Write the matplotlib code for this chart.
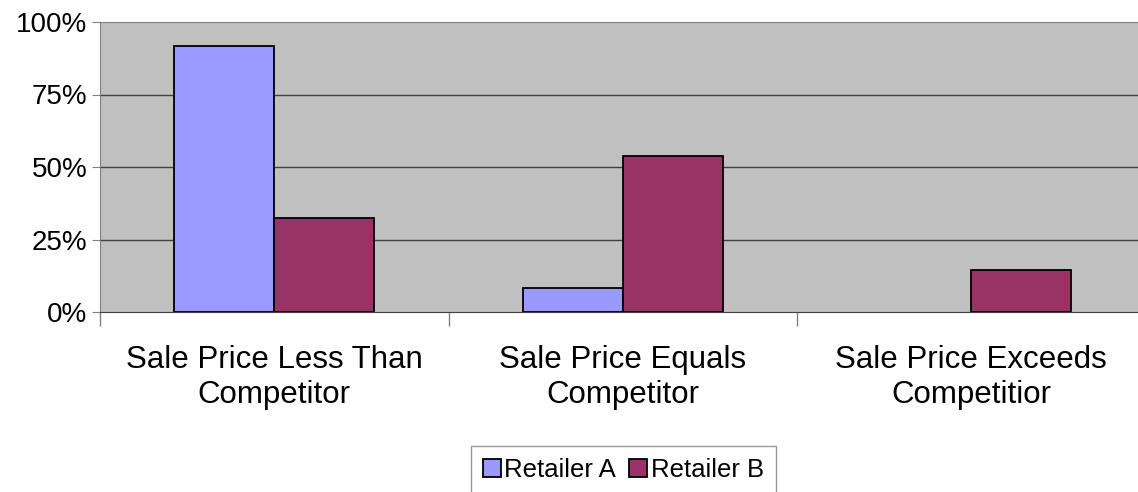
import matplotlib.pyplot as plt
import numpy as np

plt.rcParams["font.family"] = ["Liberation Sans", "DejaVu Sans"]

categories = [
    "Sale Price Less Than\nCompetitor",
    "Sale Price Equals\nCompetitor",
    "Sale Price Exceeds\nCompetitior",
]
retailer_a = [0.918, 0.083, 0.0]
retailer_b = [0.325, 0.539, 0.145]
y_ticks = [0, 0.25, 0.5, 0.75, 1.0]
y_labels = ["0%", "25%", "50%", "75%", "100%"]

W, H = 1138, 492
fig = plt.figure(figsize=(W / 100, H / 100), dpi=100)
ax = fig.add_axes([100 / W, (H - 312) / H, 1045.5 / W, 290 / H])
ax.set_facecolor("#C0C0C0")

x = np.arange(len(categories))
bw = 0.287
bars_a = ax.bar(x - bw, retailer_a, bw, align="edge", color="#9999FF",
                edgecolor="black", linewidth=1.3, label="Retailer A", zorder=3)
bars_b = ax.bar(x, retailer_b, bw, align="edge", color="#993366",
                edgecolor="black", linewidth=1.3, label="Retailer B", zorder=3)
# empty bars get no outline
for p in list(bars_a) + list(bars_b):
    if p.get_height() == 0:
        p.set_visible(False)

ax.set_xlim(-0.5, 2.5)
ax.set_ylim(0, 1)
ax.set_yticks(y_ticks)
ax.set_yticklabels(y_labels, fontsize=20)
ax.tick_params(axis="y", length=6, color="#808080", pad=3)

ax.set_xticks(x)
ax.set_xticklabels(categories, fontsize=22.5, linespacing=1.2)
ax.tick_params(axis="x", which="major", length=0, pad=24)
ax.set_xticks([-0.5, 0.5, 1.5, 2.5], minor=True)
ax.tick_params(axis="x", which="minor", length=10, color="#808080", width=1)

for v in y_ticks[1:-1]:
    ax.axhline(v, color="#404040", linewidth=1, zorder=1)

for s in ["left", "top", "right"]:
    ax.spines[s].set_color("#808080")
ax.spines["bottom"].set_color("#404040")
ax.spines["bottom"].set_zorder(4)

leg = fig.legend(loc="upper left", bbox_to_anchor=(471 / W, 1 - 446 / H),
                 ncol=2, fontsize=18.5, frameon=True, fancybox=False,
                 edgecolor="#808080", handlelength=0.7, handleheight=0.7,
                 handletextpad=0.15, columnspacing=0.5, borderpad=0.45,
                 borderaxespad=0)
leg.get_frame().set_linewidth(1)

fig.savefig("out.png", dpi=100)
